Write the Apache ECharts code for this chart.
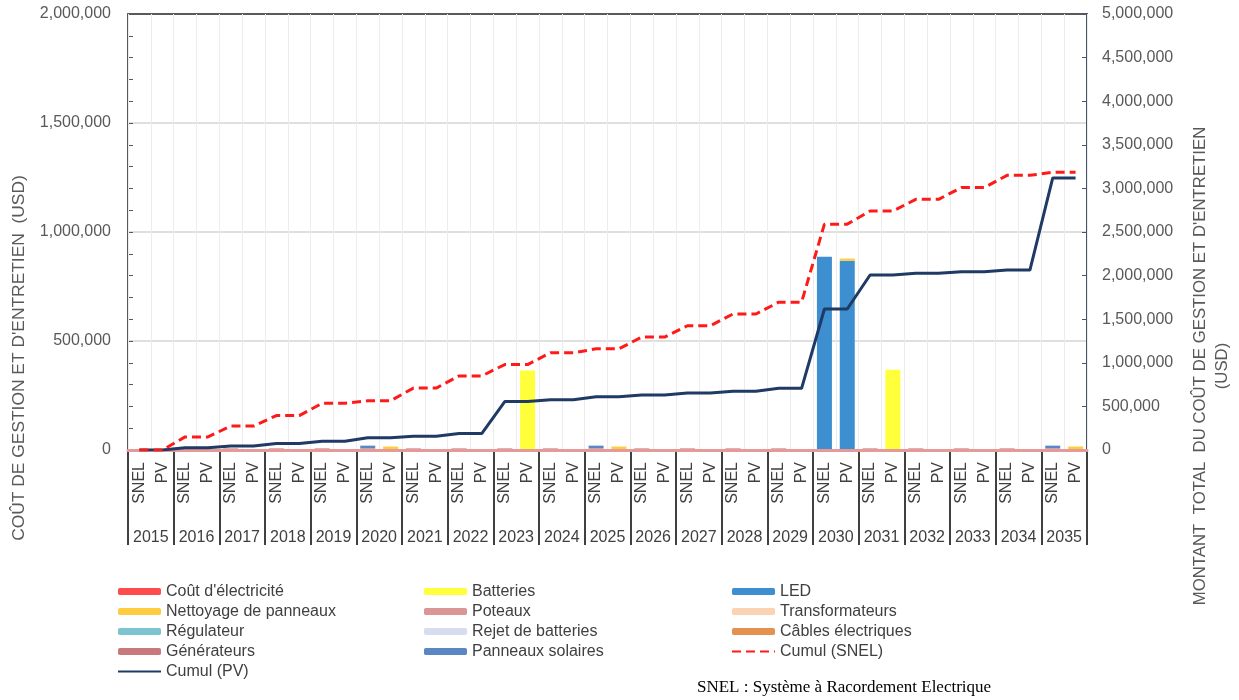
<!DOCTYPE html>
<html>
<head>
<meta charset="utf-8">
<script src="https://cdn.jsdelivr.net/npm/echarts@6/dist/echarts.min.js"></script>
<style>
  html, body { margin: 0; padding: 0; background: #ffffff; }
  #chart { width: 1239px; height: 700px; }
</style>
</head>
<body>
<div id="chart"></div>
<script>
// Years and the two options compared each year
const years = ['2015','2016','2017','2018','2019','2020','2021','2022','2023','2024','2025',
               '2026','2027','2028','2029','2030','2031','2032','2033','2034','2035'];
const kinds = ['SNEL', 'PV'];

// Annual costs per column (SNEL, PV for each year), USD
const poteaux        = [0,0, 8000,0, 8000,0, 8000,0, 8000,0, 8000,0, 8000,0, 8000,0, 8000,0, 8000,0, 8000,0,
                        8000,0, 8000,0, 8000,0, 8000,0, 0,0, 8000,0, 8000,0, 8000,0, 8000,0, 8000,0];
const batteries      = [0,0, 0,0, 0,0, 0,0, 0,0, 0,0, 0,0, 0,0, 0,365000, 0,0, 0,0,
                        0,0, 0,0, 0,0, 0,0, 0,0, 0,368000, 0,0, 0,0, 0,0, 0,0];
const led            = [0,0, 0,0, 0,0, 0,0, 0,0, 0,0, 0,0, 0,0, 0,0, 0,0, 0,0,
                        0,0, 0,0, 0,0, 0,0, 886000,868000, 0,0, 0,0, 0,0, 0,0, 0,0];
const nettoyage      = [0,0, 0,0, 0,0, 0,0, 0,0, 0,16000, 0,0, 0,0, 0,0, 0,0, 0,16000,
                        0,0, 0,0, 0,0, 0,0, 0,10000, 0,0, 0,0, 0,0, 0,0, 0,16000];
const panneaux       = [0,0, 0,0, 0,0, 0,0, 0,0, 12000,0, 0,0, 0,0, 0,0, 0,0, 12000,0,
                        0,0, 0,0, 0,0, 0,0, 0,0, 0,0, 0,0, 0,0, 0,0, 12000,0];
const coutElec       = [];
const transformateurs = [];
const regulateur     = [];
const rejetBatteries = [];
const cables         = [];
const generateurs    = [];

// Cumulative totals (right axis), USD
const cumulSNEL = [0,0, 150000,150000, 275000,275000, 395000,395000, 535000,535000, 565000,565000,
                   710000,710000, 850000,850000, 980000,980000, 1115000,1115000, 1160000,1160000,
                   1295000,1295000, 1425000,1425000, 1560000,1560000, 1695000,1695000, 2590000,2590000,
                   2740000,2740000, 2875000,2875000, 3010000,3010000, 3150000,3150000, 3185000,3185000];
const cumulPV   = [0,0, 25000,25000, 45000,45000, 75000,75000, 100000,100000, 140000,140000,
                   158000,158000, 190000,190000, 555000,555000, 575000,575000, 610000,610000,
                   632000,632000, 655000,655000, 675000,675000, 707000,707000, 1617000,1617000,
                   2007000,2007000, 2026000,2026000, 2045000,2045000, 2064000,2064000, 3120000,3120000];

const leftTicks = { min: 0, max: 2000000, interval: 500000 };
const rightTicks = { min: 0, max: 5000000, interval: 500000 };

const columns = [];
years.forEach(y => kinds.forEach(k => columns.push(y + '|' + k)));

const FONT = 'Liberation Sans, Arial, sans-serif';
const fmt = v => Number(v).toLocaleString('en-US');

const barDefs = [
  ['Poteaux', poteaux, '#d99694'],
  ["Coût d'électricité", coutElec, '#ff4b4b'],
  ['Batteries', batteries, '#ffff3c'],
  ['LED', led, '#3d8fcf'],
  ['Nettoyage de panneaux', nettoyage, '#ffcc40'],
  ['Transformateurs', transformateurs, '#fbd3b3'],
  ['Régulateur', regulateur, '#7cc4cf'],
  ['Rejet de batteries', rejetBatteries, '#d6ddf1'],
  ['Câbles électriques', cables, '#e39150'],
  ['Générateurs', generateurs, '#c9797c'],
  ['Panneaux solaires', panneaux, '#5b86c4']
];

const series = barDefs.map(([name, data, color]) => ({
  name, type: 'bar', stack: 'cost', data,
  xAxisIndex: 0, yAxisIndex: 0,
  barWidth: 15,
  itemStyle: { color },
  emphasis: { disabled: true }
}));

series.push({
  name: 'Cumul (SNEL)', type: 'line', data: cumulSNEL,
  xAxisIndex: 0, yAxisIndex: 1, symbol: 'none', z: 5,
  lineStyle: { color: '#ff1a1a', width: 3, type: [9, 5] },
  itemStyle: { color: '#ff1a1a' }
});
series.push({
  name: 'Cumul (PV)', type: 'line', data: cumulPV,
  xAxisIndex: 0, yAxisIndex: 1, symbol: 'none', z: 4,
  lineStyle: { color: '#1f3a64', width: 3 },
  itemStyle: { color: '#1f3a64' }
});

const legendBase = {
  orient: 'vertical', top: 578, itemWidth: 43, itemHeight: 7, itemGap: 3,
  selectedMode: false,
  textStyle: { fontFamily: FONT, fontSize: 16, color: '#404040', lineHeight: 17 }
};
// Bars get a thick rounded swatch; cumulative lines show only their stroke
const lg = (name) => name.startsWith('Cumul')
  ? { name, itemStyle: { opacity: 0 } }
  : { name, icon: 'roundRect' };

const option = {
  animation: false,
  grid: { left: 128, right: 152, top: 14, bottom: 250 },
  legend: [
    Object.assign({}, legendBase, { left: 112,
      data: ["Coût d'électricité", 'Nettoyage de panneaux', 'Régulateur', 'Générateurs', 'Cumul (PV)'].map(lg) }),
    Object.assign({}, legendBase, { left: 419,
      data: ['Batteries', 'Poteaux', 'Rejet de batteries', 'Panneaux solaires'].map(lg) }),
    Object.assign({}, legendBase, { left: 726,
      data: ['LED', 'Transformateurs', 'Câbles électriques', 'Cumul (SNEL)'].map(lg) })
  ],
  xAxis: [
    {
      type: 'category', data: columns, position: 'bottom', boundaryGap: true,
      axisLine: { show: true, lineStyle: { color: '#e59a9a', width: 3 } },
      axisTick: { show: false },
      axisLabel: {
        interval: 0, rotate: 90, margin: 12,
        fontFamily: FONT, fontSize: 16, color: '#404040',
        formatter: v => v.split('|')[1]
      },
      splitLine: { show: true, interval: 0, lineStyle: { color: '#ececec', width: 1 } },
      z: 3
    },
    {
      type: 'category', data: years, position: 'bottom', boundaryGap: true,
      axisLine: { show: false },
      axisTick: { show: true, interval: 0, length: 95, lineStyle: { color: '#404040', width: 2 } },
      axisLabel: { interval: 0, margin: 80, fontFamily: FONT, fontSize: 16, color: '#404040' },
      splitLine: { show: false }
    },
    {
      type: 'category', data: years, position: 'top',
      axisLine: { show: true, lineStyle: { color: '#595959', width: 2 } },
      axisTick: { show: false }, axisLabel: { show: false }, splitLine: { show: false }
    }
  ],
  yAxis: [
    {
      type: 'value', position: 'left',
      min: leftTicks.min, max: leftTicks.max, interval: leftTicks.interval,
      axisLine: { show: true, lineStyle: { color: '#595959', width: 2 } },
      axisTick: { show: true, inside: true, length: 5, lineStyle: { color: '#595959' } },
      minorTick: { show: true, splitNumber: 5, length: 5, lineStyle: { color: '#595959' } },
      axisLabel: { margin: 17, fontFamily: FONT, fontSize: 16, color: '#595959', formatter: fmt },
      splitLine: { show: true, lineStyle: { color: '#d4d4d4', width: 1.5 } }
    },
    {
      type: 'value', position: 'right',
      min: rightTicks.min, max: rightTicks.max, interval: rightTicks.interval,
      axisLine: { show: true, lineStyle: { color: '#44546a', width: 2 } },
      axisTick: { show: true, inside: true, length: 5, lineStyle: { color: '#44546a' } },
      axisLabel: { margin: 15, fontFamily: FONT, fontSize: 16, color: '#595959', formatter: fmt },
      splitLine: { show: false }
    }
  ],
  graphic: [
    {
      type: 'text', x: 19, y: 358, rotation: Math.PI / 2,
      style: {
        text: "COÛT DE GESTION ET D'ENTRETIEN  (USD)",
        fontFamily: FONT, fontSize: 17.4, fill: '#595959', align: 'center', verticalAlign: 'middle'
      }
    },
    {
      type: 'text', x: 1211, y: 366, rotation: Math.PI / 2,
      style: {
        text: "MONTANT  TOTAL  DU COÛT DE GESTION ET D'ENTRETIEN\n(USD)",
        fontFamily: FONT, fontSize: 16.8, lineHeight: 22, fill: '#595959', align: 'center', verticalAlign: 'middle'
      }
    },
    {
      type: 'text', left: 697, top: 679,
      style: {
        text: 'SNEL : Système à Racordement Electrique',
        fontFamily: 'Liberation Serif, Times New Roman, serif', fontSize: 17, fill: '#000000'
      }
    }
  ],
  series
};

const chart = echarts.init(document.getElementById('chart'), null, { renderer: 'canvas' });
chart.setOption(option);
</script>
</body>
</html>
